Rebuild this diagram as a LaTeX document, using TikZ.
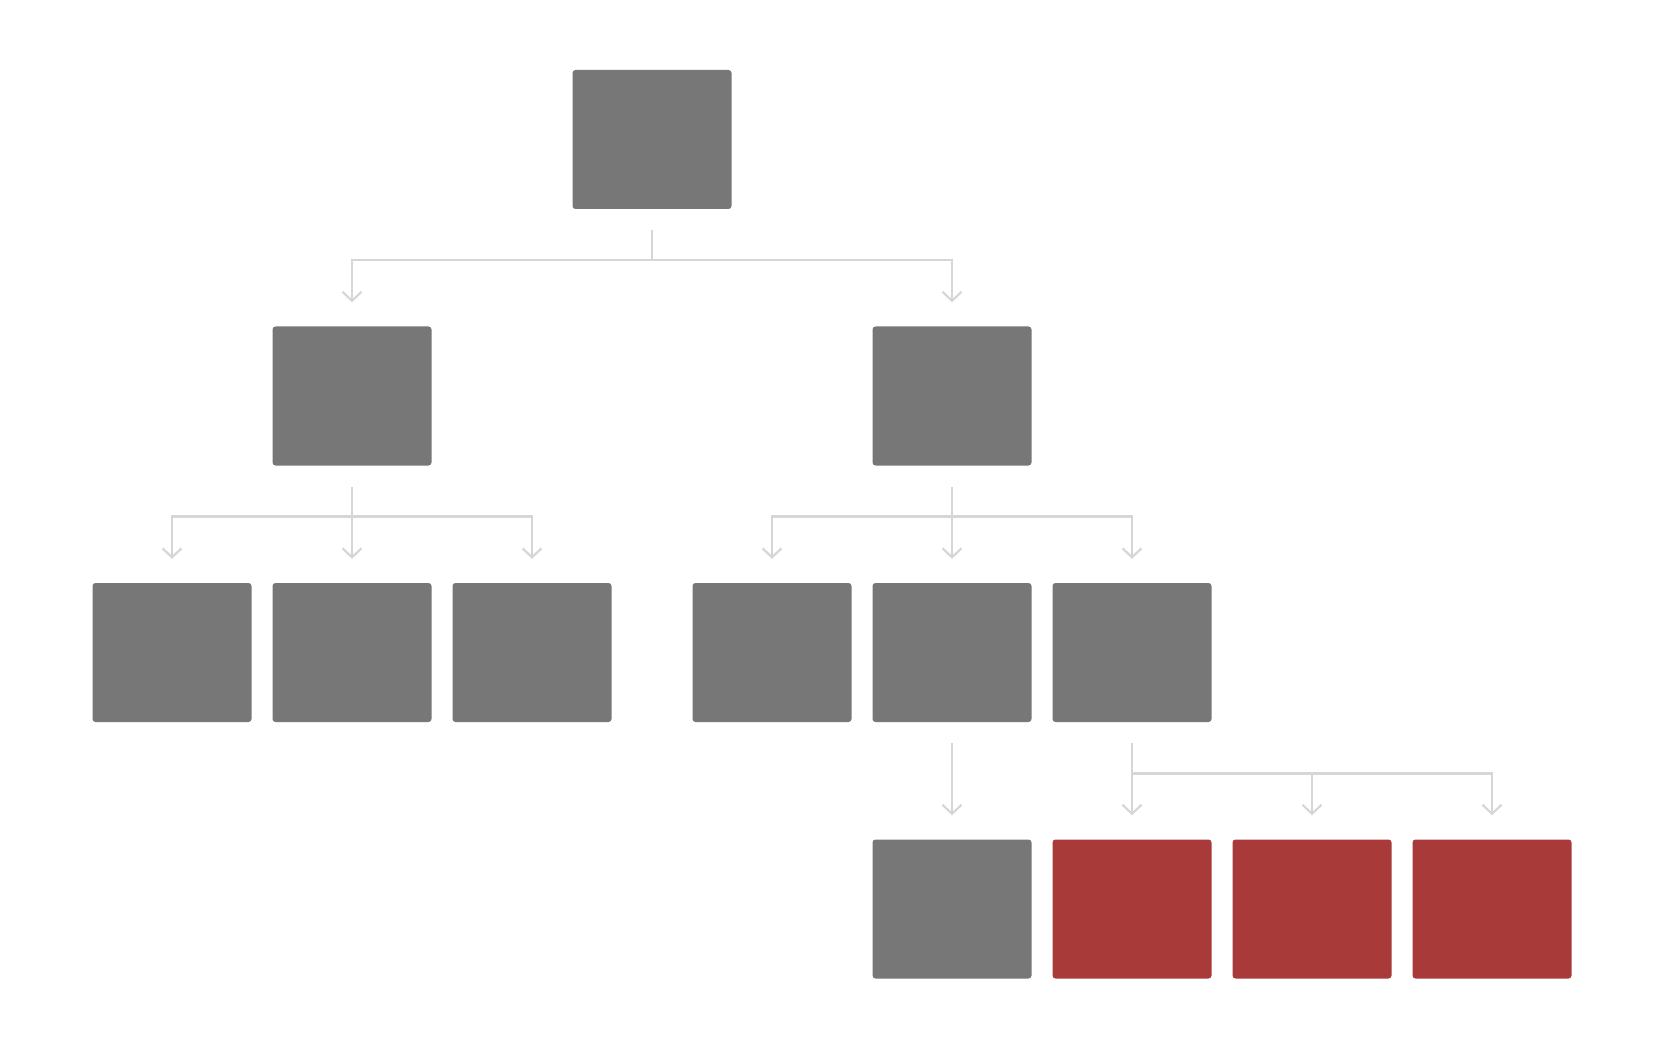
\documentclass[tikz,border=0pt]{standalone}
\usetikzlibrary{arrows.meta}
\definecolor{boxgray}{HTML}{777777}
\definecolor{boxred}{HTML}{A83A3A}
\definecolor{linegray}{HTML}{D6D6D6}
\tikzset{
  blk/.style={rectangle, rounded corners=3pt, minimum width=159pt, minimum height=139pt, inner sep=0pt, fill=boxgray},
  redblk/.style={blk, fill=boxred},
  conn/.style={draw=linegray, line width=2.6pt},
  arr/.style={conn, -{Straight Barb[length=9pt,width=19pt,line width=2.2pt]}}
}
\begin{document}
\begin{tikzpicture}[x=1pt,y=1pt]
\useasboundingbox (0,0) rectangle (1664,-1048);
% nodes
\node[blk] (top) at (652,-139.5) {};
\node[blk] (l2a) at (352,-396) {};
\node[blk] (l2b) at (952,-396) {};
\node[blk] (l3a) at (172,-652.5) {};
\node[blk] (l3b) at (352,-652.5) {};
\node[blk] (l3c) at (532,-652.5) {};
\node[blk] (l3d) at (772,-652.5) {};
\node[blk] (l3e) at (952,-652.5) {};
\node[blk] (l3f) at (1132,-652.5) {};
\node[blk] (l4a) at (952,-909) {};
\node[redblk] (l4b) at (1132,-909) {};
\node[redblk] (l4c) at (1312,-909) {};
\node[redblk] (l4d) at (1492,-909) {};
% connectors
\coordinate (jtop) at ([yshift=-51pt]top.south);
\draw[conn] ([yshift=-21pt]top.south) -- (jtop);
\draw[arr] (jtop) -| ([yshift=24pt]l2a.north);
\draw[arr] (jtop) -| ([yshift=24pt]l2b.north);

\coordinate (jl2a) at ([yshift=-51pt]l2a.south);
\draw[conn] ([yshift=-21pt]l2a.south) -- (jl2a);
\draw[arr] (jl2a) -| ([yshift=24pt]l3a.north);
\draw[arr] (jl2a) -- ([yshift=24pt]l3b.north);
\draw[arr] (jl2a) -| ([yshift=24pt]l3c.north);

\coordinate (jl2b) at ([yshift=-51pt]l2b.south);
\draw[conn] ([yshift=-21pt]l2b.south) -- (jl2b);
\draw[arr] (jl2b) -| ([yshift=24pt]l3d.north);
\draw[arr] (jl2b) -- ([yshift=24pt]l3e.north);
\draw[arr] (jl2b) -| ([yshift=24pt]l3f.north);

\draw[arr] ([yshift=-21pt]l3e.south) -- ([yshift=24pt]l4a.north);

\coordinate (jl3f) at ([yshift=-51pt]l3f.south);
\draw[conn] ([yshift=-21pt]l3f.south) -- (jl3f);
\draw[arr] (jl3f) -- ([yshift=24pt]l4b.north);
\draw[arr] (jl3f) -| ([yshift=24pt]l4c.north);
\draw[arr] (jl3f) -| ([yshift=24pt]l4d.north);
\end{tikzpicture}
\end{document}
